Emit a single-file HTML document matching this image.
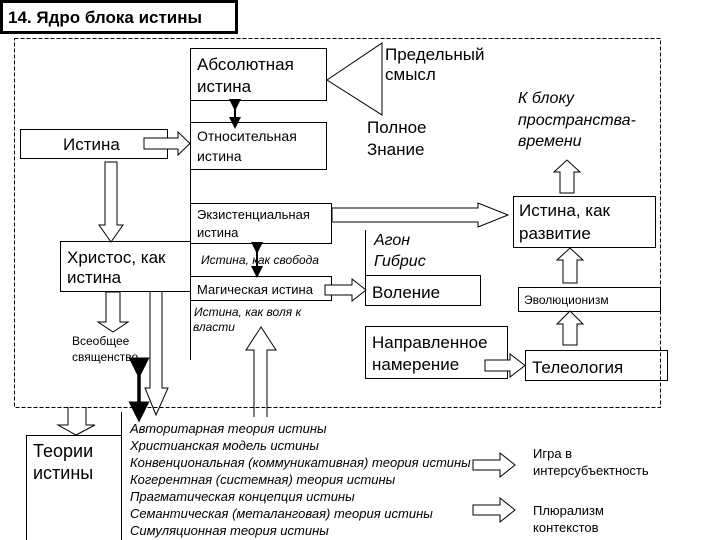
<!DOCTYPE html>
<html><head><meta charset="utf-8"><style>
html,body{margin:0;padding:0;background:#fff}
svg{display:block}
text{font-family:"Liberation Sans",sans-serif;fill:#000}
.i{font-style:italic}
</style></head><body>
<svg width="720" height="540" viewBox="0 0 720 540" xmlns="http://www.w3.org/2000/svg">
<defs>
<marker id="ah" markerWidth="6" markerHeight="6" refX="3" refY="3" orient="auto"><path d="M0,0 L6,3 L0,6 z" fill="#000"/></marker>
</defs>
<g fill="none" stroke="#000" stroke-width="1">
<rect x="1.5" y="1.5" width="235" height="31" stroke-width="3"/>
<rect x="14.5" y="38.5" width="646" height="369" stroke-dasharray="4,2"/>
<rect x="190.5" y="48.5" width="136" height="52" fill="#fff"/>
<path d="M327,80 L382,43 L382,115 Z"/>
<rect x="190.5" y="122.5" width="136" height="47" fill="#fff"/>
<rect x="20.5" y="129.5" width="147" height="29"/>
<line x1="190.5" y1="100" x2="190.5" y2="360"/>
<rect x="190.5" y="203.5" width="141" height="40" fill="#fff"/>
<rect x="60.5" y="241.5" width="130" height="50" fill="#fff"/>
<rect x="190.5" y="276.5" width="141" height="24" fill="#fff"/>
<line x1="365.5" y1="230" x2="365.5" y2="275"/>
<rect x="365.5" y="275.5" width="115" height="30"/>
<rect x="365.5" y="326.5" width="142" height="52"/>
<rect x="525.5" y="350.5" width="142" height="30"/>
<rect x="518.5" y="287.5" width="142" height="24"/>
<rect x="513.5" y="196.5" width="142" height="51"/>
<rect x="26.5" y="435.5" width="95" height="120"/>
<line x1="121.5" y1="412" x2="121.5" y2="540"/>
<!-- hollow arrows -->
<path d="M144,138 H178 V132 L190,143.5 L178,155 V149 H144 Z" fill="#fff"/>
<path d="M105,162 H117 V225 H123 L111,242 L99,225 H105 Z" fill="#fff"/>
<path d="M332,208 H478 V203 L508,215 L478,227 V222 H332 Z" fill="#fff"/>
<path d="M325,285 H352 V279 L366,290 L352,301 V295 H325 Z" fill="#fff"/>
<path d="M485,360 H510 V354 L525,365.5 L510,377 V371 H485 Z" fill="#fff"/>
<path d="M563,345 H577 V324 H583 L570,311 L557,324 H563 Z" fill="#fff"/>
<path d="M563,283 H577 V260 H583 L570,248 L557,260 H563 Z" fill="#fff"/>
<path d="M560,193 H574 V172 H580 L567,160 L554,172 H560 Z" fill="#fff"/>
<path d="M106,292 H120 V322 H128 L113,332 L98,322 H106 Z" fill="#fff"/>
<path d="M150,292 V388 H145 L156,415 L168,388 H162 V292"/>
<path d="M254,417 V350 H246 L261,327 L276,350 H267 V417"/>
<path d="M68,407 V425 H58 L76,435 L95,425 H86 V407"/>
<path d="M473,460 H500 V453 L515,465 L500,477 V470 H473 Z" fill="#fff"/>
<path d="M473,505 H500 V498 L515,510 L500,522 V515 H473 Z" fill="#fff"/>
<!-- black double arrows -->
<line x1="235" y1="105" x2="235" y2="123" stroke-width="2" marker-start="url(#ah)" marker-end="url(#ah)"/>
<line x1="257" y1="248" x2="257" y2="272" stroke-width="2" marker-start="url(#ah)" marker-end="url(#ah)"/>
<line x1="139" y1="368" x2="139" y2="412" stroke-width="3.5" marker-start="url(#ah)" marker-end="url(#ah)"/>
</g>
<text x="8" y="23" font-size="17" font-weight="bold">14. Ядро блока истины</text>
<text x="197" y="70" font-size="17">Абсолютная</text>
<text x="197" y="92" font-size="17">истина</text>
<text x="385" y="60" font-size="17">Предельный</text>
<text x="385" y="80" font-size="17">смысл</text>
<text x="367" y="133" font-size="17">Полное</text>
<text x="367" y="155" font-size="17">Знание</text>
<text x="197" y="141" font-size="14">Относительная</text>
<text x="197" y="161" font-size="14">истина</text>
<text x="63" y="150" font-size="17">Истина</text>
<text x="518" y="103" font-size="16" class="i">К блоку</text>
<text x="518" y="125" font-size="16" class="i">пространства-</text>
<text x="518" y="146" font-size="16" class="i">времени</text>
<text x="197" y="219" font-size="13">Экзистенциальная</text>
<text x="197" y="237" font-size="13">истина</text>
<text x="519" y="216" font-size="17">Истина, как</text>
<text x="519" y="239" font-size="17">развитие</text>
<text x="67" y="263" font-size="17">Христос, как</text>
<text x="67" y="283" font-size="17">истина</text>
<text x="201" y="264" font-size="12" class="i">Истина, как свобода</text>
<text x="374" y="245" font-size="16" class="i">Агон</text>
<text x="374" y="266" font-size="16" class="i">Гибрис</text>
<text x="197" y="294" font-size="13">Магическая истина</text>
<text x="372" y="298" font-size="17">Воление</text>
<text x="524" y="304" font-size="12">Эволюционизм</text>
<text x="194" y="316" font-size="12" class="i">Истина, как воля к</text>
<text x="193" y="331" font-size="12" class="i">власти</text>
<text x="72" y="345" font-size="12">Всеобщее</text>
<text x="72" y="361" font-size="12">священство</text>
<text x="372" y="348" font-size="17">Направленное</text>
<text x="372" y="370" font-size="17">намерение</text>
<text x="532" y="373" font-size="17">Телеология</text>
<text x="33" y="457" font-size="18">Теории</text>
<text x="33" y="479" font-size="18">истины</text>
<g font-size="13" class="i">
<text x="130" y="433" class="i">Авторитарная теория истины</text>
<text x="130" y="450" class="i">Христианская модель истины</text>
<text x="130" y="467" class="i">Конвенциональная (коммуникативная) теория истины</text>
<text x="130" y="484" class="i">Когерентная (системная) теория истины</text>
<text x="130" y="501" class="i">Прагматическая концепция истины</text>
<text x="130" y="518" class="i">Семантическая (металанговая) теория истины</text>
<text x="130" y="535" class="i">Симуляционная теория истины</text>
</g>
<text x="533" y="458" font-size="13">Игра в</text>
<text x="533" y="475" font-size="13">интерсубъектность</text>
<text x="533" y="515" font-size="13">Плюрализм</text>
<text x="533" y="532" font-size="13">контекстов</text>
</svg>
</body></html>
